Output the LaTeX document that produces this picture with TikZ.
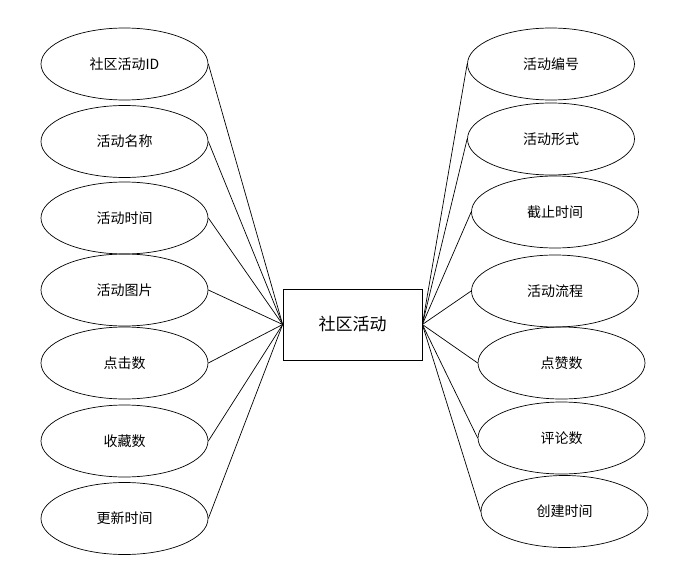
\documentclass[tikz,border=0pt]{standalone}
\usepackage{fontspec}
\newfontfamily\cjk{Noto Sans CJK SC}
\usetikzlibrary{shapes.geometric}

\begin{document}
\begin{tikzpicture}[x=1pt, y=-1pt, line width=0.7pt,
    attr/.style={draw, ellipse, minimum width=167pt, minimum height=72pt, inner sep=0pt, font=\cjk\fontsize{14}{16}\selectfont},
    entity/.style={draw, rectangle, minimum width=139pt, minimum height=71pt, inner sep=0pt, font=\cjk\fontsize{17}{19}\selectfont}]
    \useasboundingbox (0, 0) rectangle (674, 567);

    % entity
    \node[entity] (act) at (352.5, 324.5) {社区活动};

    % left attributes
    \node[attr] (actid)   at (124.5, 64)    {社区活动ID};
    \node[attr] (name)    at (124.5, 141.5) {活动名称};
    \node[attr] (time)    at (124.5, 218)   {活动时间};
    \node[attr] (pic)     at (124.5, 290)   {活动图片};
    \node[attr] (clicks)  at (124.5, 363)   {点击数};
    \node[attr] (favs)    at (124.5, 441)   {收藏数};
    \node[attr] (update)  at (124.5, 518.5) {更新时间};

    % right attributes
    \node[attr] (number)  at (551, 64)      {活动编号};
    \node[attr] (form)    at (551, 139)     {活动形式};
    \node[attr] (due)     at (555, 212)     {截止时间};
    \node[attr] (flow)    at (555, 291)     {活动流程};
    \node[attr] (likes)   at (561.5, 363)   {点赞数};
    \node[attr] (comments) at (561.5, 438)  {评论数};
    \node[attr] (created) at (564.5, 511.5) {创建时间};

    % connectors
    \foreach \a in {actid, name, time, pic, clicks, favs, update}
        \draw (\a.east) -- (act.west);
    \foreach \a in {number, form, due, flow, likes, comments, created}
        \draw (\a.west) -- (act.east);
\end{tikzpicture}
\end{document}
